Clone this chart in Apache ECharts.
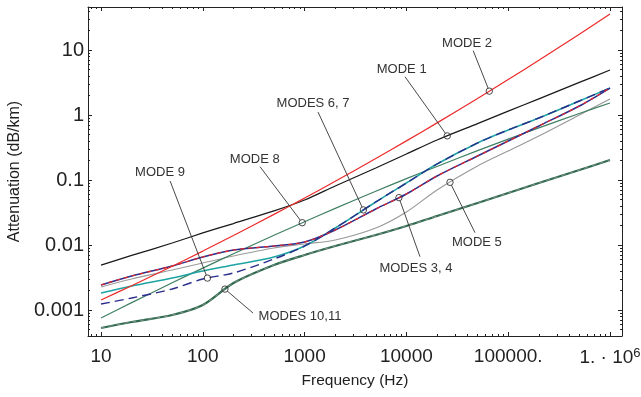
<!DOCTYPE html>
<html>
<head>
<meta charset="utf-8">
<script src="https://cdn.jsdelivr.net/npm/echarts@6/dist/echarts.min.js"></script>
<style>
  html, body { margin: 0; padding: 0; background: #fff; }
  #chart { width: 641px; height: 397px; }
</style>
</head>
<body>
<div id="chart"></div>
<script>
// Frequency grid (Hz) shared by every mode curve
const FREQ_HZ = [10, 20, 50, 100, 200, 500, 1000, 2000, 5000, 1e4, 2e4, 5e4, 1e5, 2e5, 5e5, 1e6];

// Attenuation (dB/km) of each mode at FREQ_HZ
const MODE_1    = [0.00492, 0.00690, 0.01073, 0.01530, 0.02140, 0.0334, 0.0492, 0.0809, 0.1530, 0.251, 0.4125, 0.7375, 1.144, 1.775, 3.173, 4.92];
const MODE_2    = [0.001425, 0.002365, 0.00472, 0.008058, 0.0140, 0.02957, 0.05266, 0.0955, 0.2142, 0.3996, 0.756, 1.80, 3.517, 6.942, 17.51, 35.8];
const MODES_3_4 = [0.002426, 0.003334, 0.00475, 0.00654, 0.00838, 0.00965, 0.01112, 0.01701, 0.0358, 0.0609, 0.1152, 0.2339, 0.398, 0.677, 1.375, 2.60];
const MODE_5    = [0.00226, 0.00300, 0.00412, 0.00528, 0.00677, 0.00899, 0.01036, 0.01194, 0.01826, 0.0322, 0.0702, 0.1642, 0.2794, 0.475, 1.0, 1.762];
const MODES_6_7 = [0.001827, 0.00234, 0.00311, 0.00398, 0.00492, 0.00654, 0.00965, 0.01826, 0.0459, 0.0899, 0.1762, 0.371, 0.588, 0.899, 1.642, 2.60];
const MODE_8    = [0.000753, 0.001297, 0.002625, 0.004408, 0.007331, 0.01411, 0.02284, 0.03656, 0.06712, 0.1048, 0.1616, 0.2828, 0.4255, 0.6333, 1.0545, 1.53];
const MODE_9    = [0.001237, 0.001530, 0.002104, 0.00300, 0.00371, 0.00609, 0.00965, 0.01826, 0.0459, 0.0899, 0.1762, 0.371, 0.588, 0.899, 1.642, 2.60];
const MODES_10_11 = [0.000529, 0.000654, 0.000838, 0.001194, 0.002602, 0.00492, 0.00702, 0.00965, 0.01425, 0.0196, 0.0279, 0.0443, 0.0631, 0.0899, 0.1425, 0.203];

// Axis ranges and tick labels
const X_LIMITS = [7.45, 1.312e6];
const Y_LIMITS = [0.000398, 45.86];
const X_TICK_DECADES = [1, 2, 3, 4, 5, 6];
const X_TICK_LABELS = ['10', '100', '1000', '10000', '100000.', '1. \u00b7 10{sup|6}'];
const Y_TICK_DECADES = [-3, -2, -1, 0, 1];
const Y_TICK_LABELS = ['0.001', '0.01', '0.1', '1', '10'];

// Callouts: text, curve it points to, frequency of the marker, leader end and text anchor (Hz, dB/km)
const CALLOUT_TEXT  = ['MODE 2', 'MODE 1', 'MODES 6, 7', 'MODE 8', 'MODE 9', 'MODES 3, 4', 'MODE 5', 'MODES 10,11'];
const CALLOUT_CURVE = ['m2', 'm1', 'm67', 'm8', 'm9', 'm34', 'm5', 'm1011'];
const CALLOUT_MARK_HZ = [65200, 25200, 3780, 948, 111, 8450, 26800, 165];
const CALLOUT_ELBOW = [[45300, 9.76], [9690, 3.88], [1355, 1.11], [365, 0.160], [47.7, 0.0966], [13600, 0.0066], [47200, 0.01546], [311, 0.000899]];
const CALLOUT_LABEL = [[39400, 12.8], [8990, 5.10], [1211, 1.53], [324, 0.210], [38.0, 0.1328], [12400, 0.00443], [49300, 0.01112], [901, 0.000809]];

const lg = Math.log10;
const CURVES = { m1: MODE_1, m2: MODE_2, m34: MODES_3_4, m5: MODE_5, m67: MODES_6_7, m8: MODE_8, m9: MODE_9, m1011: MODES_10_11 };

function toLogPairs(values) {
  return FREQ_HZ.map((f, i) => [lg(f), lg(values[i])]);
}

// Position on a curve at a given frequency (log-log between grid points)
function onCurve(values, hz) {
  const x = lg(hz);
  for (let i = 0; i < FREQ_HZ.length - 1; i++) {
    const x0 = lg(FREQ_HZ[i]), x1 = lg(FREQ_HZ[i + 1]);
    if (x >= x0 && x <= x1) {
      const t = (x - x0) / (x1 - x0);
      return lg(values[i]) + t * (lg(values[i + 1]) - lg(values[i]));
    }
  }
  return lg(values[values.length - 1]);
}

// Minor tick positions (2..9 within each decade)
function minorTicks(lo, hi) {
  const out = [];
  for (let d = Math.floor(lg(lo)); d <= Math.ceil(lg(hi)); d++) {
    for (let k = 2; k <= 9; k++) {
      const v = lg(k) + d;
      if (v > lg(lo) && v < lg(hi)) out.push(v);
    }
  }
  return out;
}

const FONT = "'Liberation Sans', Arial, Helvetica, sans-serif";
const INK = '#222';

function makeAxis(dim, position, ticks, len, showLine, label) {
  const lim = dim === 'x' ? X_LIMITS : Y_LIMITS;
  const ax = {
    type: 'value',
    position: position,
    min: lg(lim[0]),
    max: lg(lim[1]),
    axisLine: { show: showLine, onZero: false, lineStyle: { color: INK, width: 1 } },
    axisTick: { show: true, inside: true, length: len, customValues: ticks, lineStyle: { color: INK, width: 1 } },
    axisLabel: { show: false },
    splitLine: { show: false },
    minorTick: { show: false },
    minorSplitLine: { show: false }
  };
  if (label) Object.assign(ax, label);
  return ax;
}

const xMinor = minorTicks(X_LIMITS[0], X_LIMITS[1]);
const yMinor = minorTicks(Y_LIMITS[0], Y_LIMITS[1]);

const xLabel = {
  name: 'Frequency (Hz)',
  nameLocation: 'middle',
  nameGap: 37,
  nameTextStyle: { fontFamily: FONT, fontSize: 15.5, color: INK },
  axisLabel: {
    show: true,
    customValues: X_TICK_DECADES,
    margin: 11,
    fontFamily: FONT,
    fontSize: 19,
    color: INK,
    formatter: v => X_TICK_LABELS[X_TICK_DECADES.indexOf(Math.round(v))],
    rich: { sup: { fontFamily: FONT, fontSize: 13, color: INK, verticalAlign: 'top', padding: [0, 0, 9, 0] } }
  }
};
const yLabel = {
  name: 'Attenuation (dB/km)',
  nameLocation: 'middle',
  nameGap: 64,
  nameTextStyle: { fontFamily: FONT, fontSize: 16, color: INK },
  axisLabel: {
    show: true,
    customValues: Y_TICK_DECADES,
    margin: 4,
    fontFamily: FONT,
    fontSize: 20,
    color: INK,
    formatter: v => Y_TICK_LABELS[Y_TICK_DECADES.indexOf(Math.round(v))]
  }
};

function lineSeries(name, values, color, width, dash, z) {
  return {
    type: 'line',
    name: name,
    xAxisIndex: 0,
    yAxisIndex: 0,
    data: toLogPairs(values),
    showSymbol: false,
    symbol: 'none',
    smooth: 0.3,
    lineStyle: { color: color, width: width, type: dash || 'solid' },
    z: z,
    silent: true
  };
}

const calloutData = CALLOUT_TEXT.map((t, i) => {
  const curve = CURVES[CALLOUT_CURVE[i]];
  return [
    lg(CALLOUT_MARK_HZ[i]), onCurve(curve, CALLOUT_MARK_HZ[i]),
    lg(CALLOUT_ELBOW[i][0]), lg(CALLOUT_ELBOW[i][1]),
    lg(CALLOUT_LABEL[i][0]), lg(CALLOUT_LABEL[i][1])
  ];
});

const option = {
  animation: false,
  backgroundColor: '#fff',
  grid: { left: 88, right: 19, top: 7, bottom: 61, containLabel: false, outerBoundsMode: 'none' },
  xAxis: [
    makeAxis('x', 'bottom', X_TICK_DECADES, 4, true, xLabel),
    makeAxis('x', 'bottom', xMinor, 2, false),
    makeAxis('x', 'top', X_TICK_DECADES, 4, true),
    makeAxis('x', 'top', xMinor, 2, false)
  ],
  yAxis: [
    makeAxis('y', 'left', Y_TICK_DECADES, 4, true, yLabel),
    makeAxis('y', 'left', yMinor, 2, false),
    makeAxis('y', 'right', Y_TICK_DECADES, 4, true),
    makeAxis('y', 'right', yMinor, 2, false)
  ],
  series: [
    lineSeries('Mode 5', MODE_5, '#9a9a9a', 1.2, null, 2),
    lineSeries('Mode 8', MODE_8, '#3f7f62', 1.2, null, 3),
    lineSeries('Modes 10,11', MODES_10_11, '#2f6a4e', 2.2, null, 3),
    lineSeries('Modes 10,11 (b)', MODES_10_11, '#8c9a92', 0.9, [4, 4], 4),
    lineSeries('Modes 6,7', MODES_6_7, '#1ea3a3', 1.6, null, 4),
    lineSeries('Mode 9', MODE_9, '#2a2d8c', 1.4, [9, 5], 5),
    lineSeries('Mode 3', MODES_3_4, '#2a2d8c', 1.5, null, 5),
    lineSeries('Mode 4', MODES_3_4, '#e8262a', 1.2, [4, 4], 6),
    lineSeries('Mode 1', MODE_1, '#1a1a1a', 1.3, null, 6),
    lineSeries('Mode 2', MODE_2, '#ec2a2a', 1.2, null, 7),
    {
      type: 'custom',
      name: 'callouts',
      xAxisIndex: 0,
      yAxisIndex: 0,
      data: calloutData,
      encode: { x: [0, 2, 4], y: [1, 3, 5] },
      clip: false,
      silent: true,
      z: 10,
      renderItem: function (params, api) {
        const m = api.coord([api.value(0), api.value(1)]);
        const e = api.coord([api.value(2), api.value(3)]);
        const t = api.coord([api.value(4), api.value(5)]);
        const r = 3.2;
        const dx = e[0] - m[0], dy = e[1] - m[1];
        const d = Math.hypot(dx, dy) || 1;
        return {
          type: 'group',
          children: [
            { type: 'line', shape: { x1: m[0] + dx / d * r, y1: m[1] + dy / d * r, x2: e[0], y2: e[1] },
              style: { stroke: '#333', lineWidth: 0.9 } },
            { type: 'circle', shape: { cx: m[0], cy: m[1], r: r },
              style: { stroke: '#333', fill: 'none', lineWidth: 0.9 } },
            { type: 'text', x: t[0], y: t[1],
              style: { text: CALLOUT_TEXT[params.dataIndex], fill: '#333', fontFamily: FONT, fontSize: 13,
                       align: 'center', verticalAlign: 'middle' } }
          ]
        };
      }
    }
  ]
};

const chart = echarts.init(document.getElementById('chart'), null, { renderer: 'canvas' });
chart.setOption(option);
</script>
</body>
</html>
